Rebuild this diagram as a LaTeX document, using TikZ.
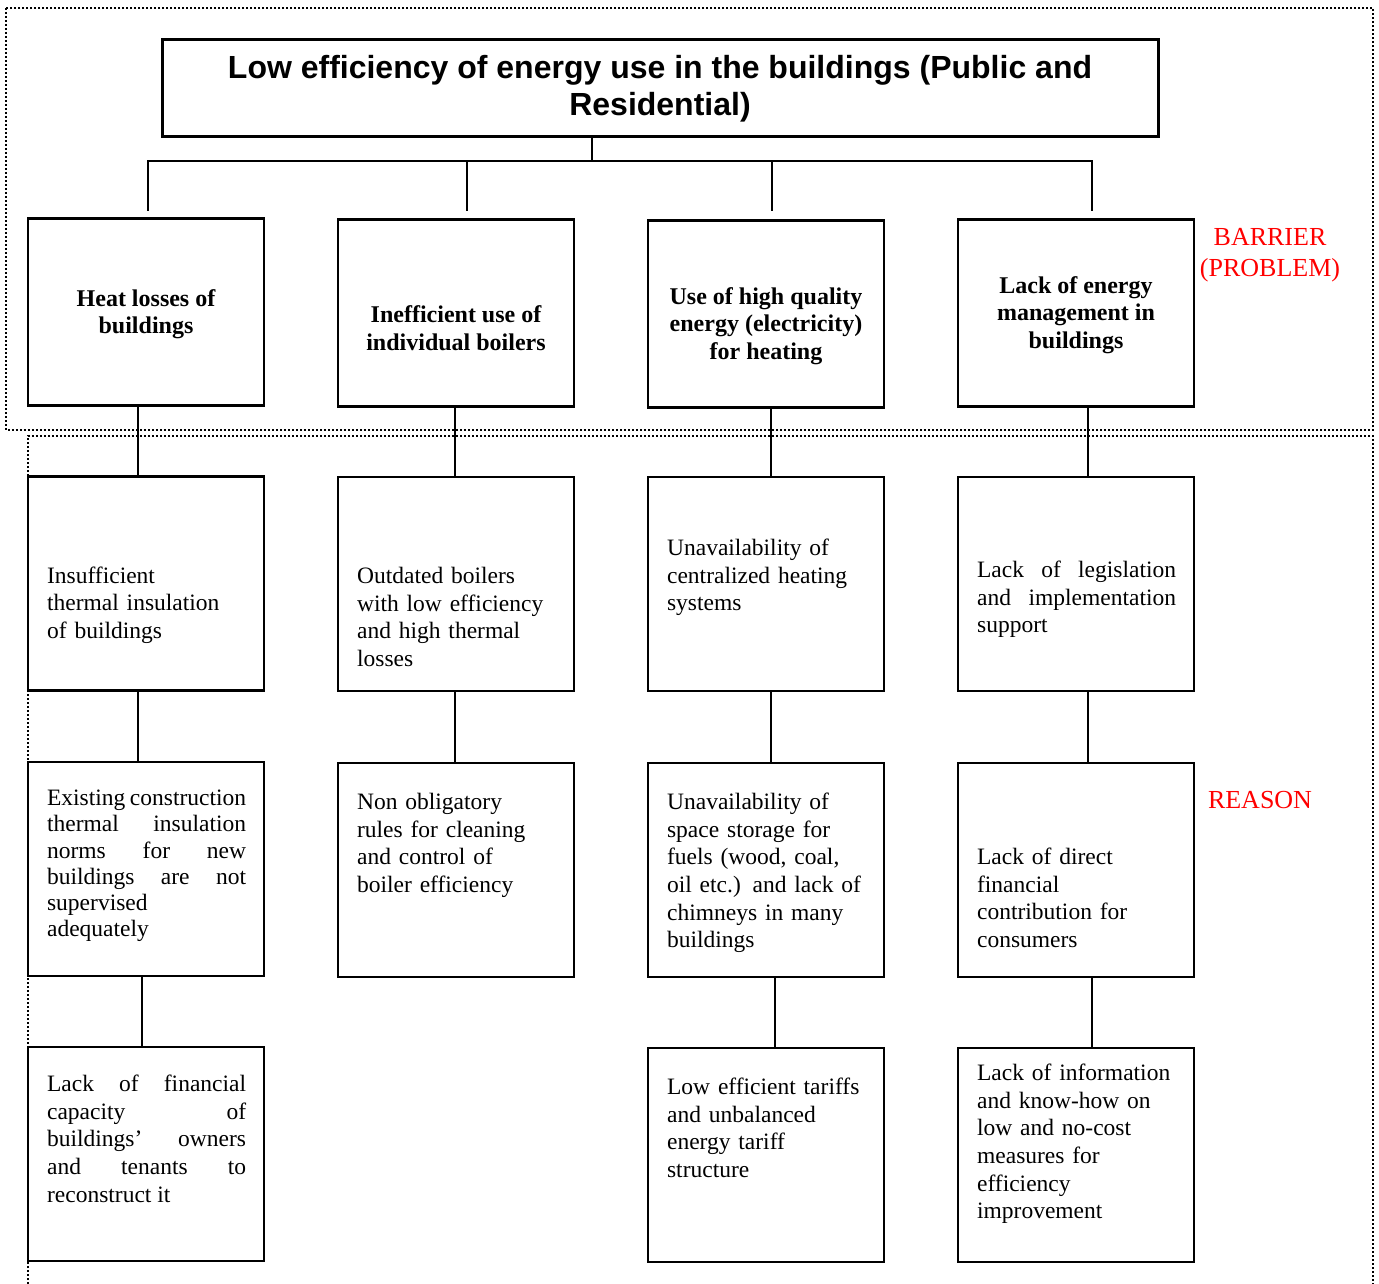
\documentclass[tikz,border=0pt]{standalone}
\usepackage{fontspec}
\setmainfont{Liberation Serif}
\newfontfamily\headfont{Liberation Sans}

\begin{document}
\begin{tikzpicture}[x=1pt, y=-1pt,
            frame/.style={draw, line width=2.2pt, minimum width=236pt, inner sep=0pt},
            barrier/.style={frame, minimum height=187pt},
            reason/.style={frame, minimum height=214pt},
            bartext/.style={font=\bfseries\fontsize{24}{27.5}\selectfont, align=center, inner sep=0pt},
            restext/.style={font=\fontsize{23.5}{27.6}\selectfont, align=left, text width=212pt,
                inner sep=0pt, anchor=north west,
                execute at begin node={\tolerance=10000\hbadness=10000\hyphenpenalty=10000}},
            jtext/.style={restext, align=justify, text width=199pt},
            link/.style={line width=2pt},
            zone/.style={line width=2pt, dash pattern=on 2pt off 2pt},
            tag/.style={font=\fontsize{26}{31}\selectfont, text=red, align=center, inner sep=0pt}]
            \useasboundingbox (0,0) rectangle (1379,1284);

            \draw[zone] (6,8) rectangle (1373,430);
            \draw[zone] (28,1284) |- (1373,436) -- (1373,1284);

            \node[draw, line width=3pt, minimum width=996pt, minimum height=97pt, inner sep=0pt,
                font=\headfont\bfseries\fontsize{32}{37}\selectfont, align=center] (title) at (660,88.5)
                {Low efficiency of energy use in the buildings (Public and\\Residential)};

            \node[barrier] (heat) at (146,312) {};
            \node[barrier] (boil) at (456,313) {};
            \node[barrier] (elec) at (766,314) {};
            \node[barrier] (mgmt) at (1076,313) {};

            \node[bartext, yshift=-2pt] (heat-t) at (heat.center) {Heat losses of\\buildings};
            \node[bartext, yshift=-15pt] (boil-t) at (boil.center) {Inefficient use of\\individual boilers};
            \node[bartext, yshift=-12pt] (elec-t) at (elec.center) {Use of high quality\\energy (electricity)\\for heating};
            \node[bartext, yshift=-2pt] (mgmt-t) at (mgmt.center) {Lack of energy\\management in\\buildings};

            \node[tag] (barrier-t) at (1270,255) {BARRIER\\(PROBLEM)};
            \node[tag] (reason-t) at (1260,800) {REASON};

            \node[reason] (heat1) at (146,583.5) {};
            \node[reason] (heat2) at (146,869) {};
            \node[reason] (heat3) at (146,1154) {};
            \node[reason] (boil1) at (456,584) {};
            \node[reason] (boil2) at (456,870) {};
            \node[reason] (elec1) at (766,584) {};
            \node[reason] (elec2) at (766,870) {};
            \node[reason] (elec3) at (766,1155) {};
            \node[reason] (mgmt1) at (1076,584) {};
            \node[reason] (mgmt2) at (1076,870) {};
            \node[reason] (mgmt3) at (1076,1155) {};

            \node[restext, xshift=20pt, yshift=-91pt] (heat1-t) at (heat1.north west)
                {Insufficient\\thermal insulation\\of buildings};
            \node[jtext, xshift=20pt, yshift=-29pt] (heat2-t) at (heat2.north west)
                {\baselineskip=26.2pt Existing construction\linebreak thermal insulation\linebreak norms for new\linebreak
                 buildings are not\linebreak supervised\newline adequately\par};
            \node[jtext, xshift=20pt, yshift=-29pt] (heat3-t) at (heat3.north west)
                {Lack of financial\linebreak capacity of\linebreak buildings’ owners\linebreak
                 and tenants to\linebreak reconstruct it};
            \node[restext, xshift=20pt, yshift=-91pt] (boil1-t) at (boil1.north west)
                {Outdated boilers\\with low efficiency\\and high thermal\\losses};
            \node[restext, xshift=20pt, yshift=-31pt] (boil2-t) at (boil2.north west)
                {Non obligatory\\rules for cleaning\\and control of\\boiler efficiency};
            \node[restext, xshift=20pt, yshift=-63pt] (elec1-t) at (elec1.north west)
                {Unavailability of\\centralized heating\\systems};
            \node[restext, xshift=20pt, yshift=-31pt] (elec2-t) at (elec2.north west)
                {Unavailability of\\space storage for\\fuels (wood, coal,\\oil etc.) and lack of\\chimneys in many\\buildings};
            \node[restext, xshift=20pt, yshift=-31pt] (elec3-t) at (elec3.north west)
                {Low efficient tariffs\\and unbalanced\\energy tariff\\structure};
            \node[jtext, xshift=20pt, yshift=-85pt] (mgmt1-t) at (mgmt1.north west)
                {Lack of legislation\linebreak and implementation\linebreak support};
            \node[restext, xshift=20pt, yshift=-86pt] (mgmt2-t) at (mgmt2.north west)
                {Lack of direct\\financial\\contribution for\\consumers};
            \node[restext, xshift=20pt, yshift=-17pt] (mgmt3-t) at (mgmt3.north west)
                {Lack of information\\and know-how on\\low and no-cost\\measures for\\efficiency\\improvement};

            \coordinate (hub) at (592,161);
            \coordinate (drop1) at (148,211);
            \coordinate (drop2) at (467,211);
            \coordinate (drop3) at (772,211);
            \coordinate (drop4) at (1092,211);
            \draw[link] (title.south -| hub) -- (hub);
            \draw[link] (drop1) |- (hub) -| (drop4);
            \draw[link] (drop2) -- (drop2 |- hub);
            \draw[link] (drop3) -- (drop3 |- hub);

            \draw[link] ([xshift=-8pt]heat.south) -- ([xshift=-8pt]heat1.north);
            \draw[link] ([xshift=-8pt]heat1.south) -- ([xshift=-8pt]heat2.north);
            \draw[link] ([xshift=-4pt]heat2.south) -- ([xshift=-4pt]heat3.north);
            \draw[link] ([xshift=-1pt]boil.south) -- ([xshift=-1pt]boil1.north);
            \draw[link] ([xshift=-1pt]boil1.south) -- ([xshift=-1pt]boil2.north);
            \draw[link] ([xshift=5pt]elec.south) -- ([xshift=5pt]elec1.north);
            \draw[link] ([xshift=5pt]elec1.south) -- ([xshift=5pt]elec2.north);
            \draw[link] ([xshift=9pt]elec2.south) -- ([xshift=9pt]elec3.north);
            \draw[link] ([xshift=12pt]mgmt.south) -- ([xshift=12pt]mgmt1.north);
            \draw[link] ([xshift=12pt]mgmt1.south) -- ([xshift=12pt]mgmt2.north);
            \draw[link] ([xshift=16pt]mgmt2.south) -- ([xshift=16pt]mgmt3.north);
        \end{tikzpicture}
\end{document}
